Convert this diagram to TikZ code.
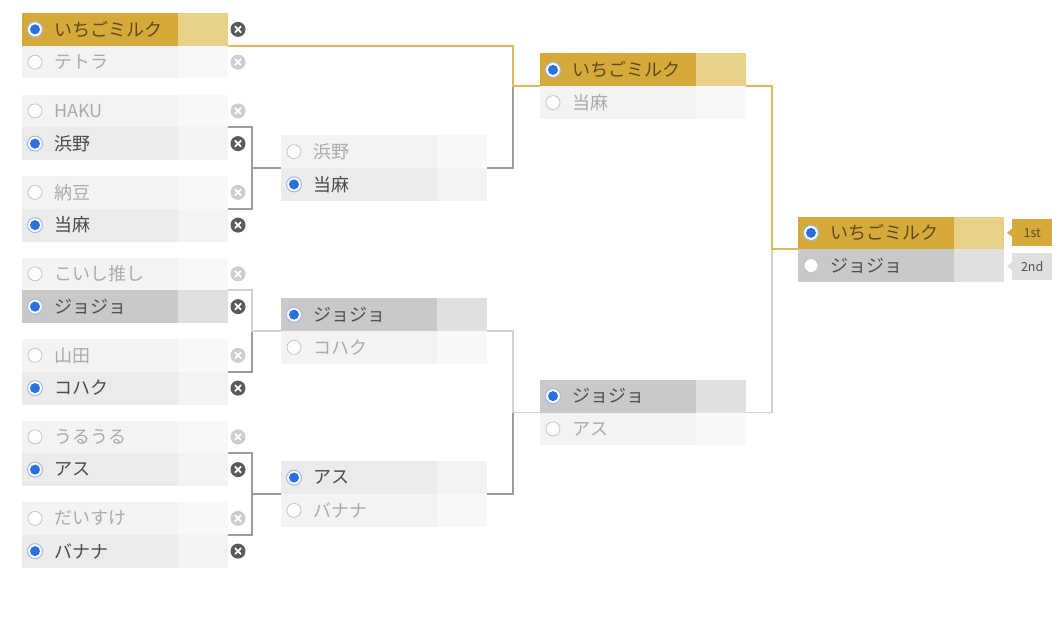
\documentclass[tikz,border=0pt]{standalone}
\usepackage{fontspec}
\newfontfamily\jp{Noto Sans CJK JP}
\usetikzlibrary{calc}
\definecolor{goldM}{HTML}{D6AA3A}
\definecolor{goldS}{HTML}{E8D186}
\definecolor{goldT}{HTML}{5E4A1A}
\definecolor{winM}{HTML}{EBEBEB}
\definecolor{winS}{HTML}{F3F3F3}
\definecolor{winT}{HTML}{4A4A4A}
\definecolor{darkM}{HTML}{C9C9C9}
\definecolor{darkS}{HTML}{E0E0E0}
\definecolor{darkT}{HTML}{505050}
\definecolor{loseM}{HTML}{F3F3F3}
\definecolor{loseS}{HTML}{F8F8F8}
\definecolor{loseT}{HTML}{ABABAB}
\definecolor{radioBlue}{HTML}{2C6FE0}
\definecolor{radioRing}{HTML}{9DBDF0}
\definecolor{radioGrey}{HTML}{C4C4C4}
\definecolor{xDark}{HTML}{5A5A5A}
\definecolor{xLight}{HTML}{CDCDCD}
\definecolor{lineGold}{HTML}{DBBA5C}
\definecolor{lineMid}{HTML}{9C9C9C}
\definecolor{lineLight}{HTML}{D2D2D2}
\definecolor{tagGrey}{HTML}{E0E0E0}
\newcommand\entry[6]{%
  \node[entrybox, fill=#4S] (#1) at (#2,#3) {};
  \fill[#4M] (#1.north west) rectangle ([xshift=156pt]#1.south west);
  \node[radio#5] (#1-r) at ([xshift=13pt]#1.west) {};
  \node[lbl, text=#4T] (#1-t) at ([xshift=32pt]#1.west) {#6};
}
\newcommand\xic[2]{\node[xicon=#2] (#1-x) at ([xshift=10pt]#1.east) {};}
\begin{document}
\begin{tikzpicture}[x=1pt,y=-1pt,
  entrybox/.style={rectangle, anchor=north west, minimum width=206pt, minimum height=32.75pt, inner sep=0pt, outer sep=0pt},
  lbl/.style={anchor=west, inner sep=0pt, font=\jp\fontsize{18}{21}\selectfont},
  radioon/.style={circle, minimum size=15pt, inner sep=0pt, fill=white, draw=radioRing, line width=1pt,
    path picture={\fill[radioBlue] (path picture bounding box.center) circle (5pt);}},
  radiooff/.style={circle, minimum size=14pt, inner sep=0pt, fill=white, draw=radioGrey, line width=0.8pt},
  xicon/.style={circle, minimum size=15pt, inner sep=0pt, fill=#1,
    path picture={\draw[white, line width=1.8pt, line cap=round] (path picture bounding box.center) +(-2.8pt,-2.8pt) -- +(2.8pt,2.8pt) +(-2.8pt,2.8pt) -- +(2.8pt,-2.8pt);}},
  lnGold/.style={draw=lineGold, line width=1.6pt},
  lnMid/.style={draw=lineMid, line width=1.6pt},
  lnLight/.style={draw=lineLight, line width=1.6pt},
  tagbox/.style={rectangle, anchor=north west, minimum width=40pt, minimum height=27pt, inner sep=0pt, font=\jp\fontsize{12.5}{14}\selectfont}
]
\useasboundingbox (0,0) rectangle (1052,634);
\fill[white] (0,0) rectangle (1052,634);

% ---- column 1
\entry{c1a}{22}{13}{gold}{on}{いちごミルク}
\entry{c1a2}{22}{13+32.75}{lose}{off}{テトラ}
\entry{c1b}{22}{94.5}{lose}{off}{HAKU}
\entry{c1b2}{22}{94.5+32.75}{win}{on}{浜野}
\entry{c1c}{22}{176}{lose}{off}{納豆}
\entry{c1c2}{22}{176+32.75}{win}{on}{当麻}
\entry{c1d}{22}{257.5}{lose}{off}{こいし推し}
\entry{c1d2}{22}{257.5+32.75}{dark}{on}{ジョジョ}
\entry{c1e}{22}{339}{lose}{off}{山田}
\entry{c1e2}{22}{339+32.75}{win}{on}{コハク}
\entry{c1f}{22}{420.5}{lose}{off}{うるうる}
\entry{c1f2}{22}{420.5+32.75}{win}{on}{アス}
\entry{c1g}{22}{502}{lose}{off}{だいすけ}
\entry{c1g2}{22}{502+32.75}{win}{on}{バナナ}
\xic{c1a}{xDark}\xic{c1a2}{xLight}
\xic{c1b}{xLight}\xic{c1b2}{xDark}
\xic{c1c}{xLight}\xic{c1c2}{xDark}
\xic{c1d}{xLight}\xic{c1d2}{xDark}
\xic{c1e}{xLight}\xic{c1e2}{xDark}
\xic{c1f}{xLight}\xic{c1f2}{xDark}
\xic{c1g}{xLight}\xic{c1g2}{xDark}

% ---- column 2
\entry{c2a}{281}{135.25}{lose}{off}{浜野}
\entry{c2a2}{281}{135.25+32.75}{win}{on}{当麻}
\entry{c2b}{281}{298.25}{dark}{on}{ジョジョ}
\entry{c2b2}{281}{298.25+32.75}{lose}{off}{コハク}
\entry{c2c}{281}{461.25}{win}{on}{アス}
\entry{c2c2}{281}{461.25+32.75}{lose}{off}{バナナ}

% ---- column 3
\entry{c3a}{540}{53.5}{gold}{on}{いちごミルク}
\entry{c3a2}{540}{53.5+32.75}{lose}{off}{当麻}
\entry{c3b}{540}{379.75}{dark}{on}{ジョジョ}
\entry{c3b2}{540}{379.75+32.75}{lose}{off}{アス}

% ---- final
\entry{fa}{798}{216.5}{gold}{on}{いちごミルク}
\entry{fa2}{798}{216.5+32.75}{dark}{off}{ジョジョ}

% ---- tags
\node[tagbox, fill=goldM, text=goldT] (tag1) at (1012,219) {1st};
\fill[goldM] ([yshift=4pt]tag1.west) -- ([xshift=-5pt]tag1.west) -- ([yshift=-4pt]tag1.west) -- cycle;
\node[tagbox, fill=tagGrey, text=darkT] (tag2) at (1012,252.5) {2nd};
\fill[tagGrey] ([yshift=4pt]tag2.west) -- ([xshift=-5pt]tag2.west) -- ([yshift=-4pt]tag2.west) -- cycle;

% ---- connectors
\coordinate (j1) at (513,0);
% column 1 -> column 2
\draw[lnMid] (c1b.south east) -- ++(24,0) |- (c2a.south west);
\draw[lnMid] (c1c.south east) -- ++(24,0) |- (c2a.south west);
\draw[lnMid] (c1e.south east) -- ++(24,0) |- (c2b.south west);
\draw[lnLight] (c1d.south east) -- ++(24,0) |- (c2b.south west);
\draw[lnMid] (c1f.south east) -- ++(24,0) |- (c2c.south west);
\draw[lnMid] (c1g.south east) -- ++(24,0) |- (c2c.south west);
% column 2 -> column 3
\draw[lnMid] (c2a.south east) -| (j1 |- c3a.south west);
\draw[lnGold] (c1a.south east) -- (c1a.south east -| j1) |- (c3a.south west);
\draw[lnMid] (c2c.south east) -- ++(26,0) |- (c3b.south west);
\draw[lnLight] (c2b.south east) -- ++(26,0) |- (c3b.south west);
% column 3 -> final
\draw[lnLight] (c3b.south east) -- ++(26,0) |- (fa.south west);
\draw[lnGold] (c3a.south east) -- ++(26,0) |- (fa.south west);
\end{tikzpicture}
\end{document}
